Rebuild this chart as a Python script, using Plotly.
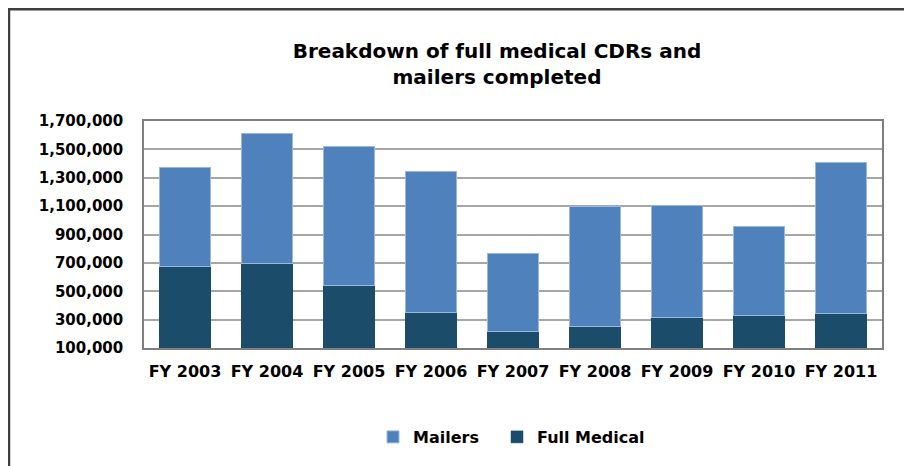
import plotly.graph_objects as go

categories = ["FY 2003", "FY 2004", "FY 2005", "FY 2006", "FY 2007", "FY 2008", "FY 2009", "FY 2010", "FY 2011"]
full_medical = [678000, 694000, 539000, 347000, 215000, 250000, 316000, 326000, 345000]
mailers = [692000, 916000, 980000, 996000, 552000, 846000, 785000, 629000, 1064000]
y_ticks = [100000, 300000, 500000, 700000, 900000, 1100000, 1300000, 1500000, 1700000]

FONT = "DejaVu Sans"
OFF = 8  # page body margin offset
W, H = 912 - OFF, 466 - OFF
L = 144 - OFF
T = 121 - OFF
R = W - (882 - OFF)
B = H - (348 - OFF)
PW, PH = W - L - R, H - T - B


def px_x(px):
    return (px - OFF - L) / PW


def px_y(py):
    return (H - B - (py - OFF)) / PH


fig = go.Figure()
fig.add_trace(go.Bar(x=categories, y=full_medical, name="Full Medical",
                     marker=dict(color="#1B4D6A", line=dict(color="#1B4D6A", width=0.5)),
                     legend="legend2", showlegend=True))
fig.add_trace(go.Bar(x=categories, y=mailers, name="Mailers",
                     marker=dict(color="#4F81BD", line=dict(color="#9BB8DC", width=1)),
                     legend="legend", showlegend=True))

legend_font = dict(family=FONT, size=16, color="black", weight="bold")

fig.update_layout(
    width=W, height=H,
    showlegend=True,
    margin=dict(l=L, r=R, t=T, b=B),
    barmode="stack", bargap=0.37,
    paper_bgcolor="white", plot_bgcolor="white",
    font=dict(family=FONT, color="black"),
    title=dict(text="<b>Breakdown of full medical CDRs and<br>mailers completed</b>",
               x=(497 - OFF) / W, xanchor="center", y=1 - (58 - OFF) / H, yanchor="middle",
               font=dict(family=FONT, size=20, color="black")),
    legend=dict(orientation="h", x=px_x(373), xanchor="left", y=px_y(437), yanchor="middle",
                font=legend_font, itemwidth=30, visible=True),
    legend2=dict(orientation="h", x=px_x(497), xanchor="left", y=px_y(437), yanchor="middle",
                 font=legend_font, itemwidth=30, visible=True),
    xaxis=dict(showline=True, linecolor="#7F7F7F", linewidth=1.5, mirror=True,
               tickfont=dict(family=FONT, size=16, color="black", weight="bold"),
               ticks="", ticklabelstandoff=8),
    yaxis=dict(range=[100000, 1700000], tickvals=y_ticks, tickformat=",",
               showline=True, linecolor="#7F7F7F", linewidth=1.5, mirror=True,
               showgrid=True, gridcolor="#A6A6A6", gridwidth=1.5,
               tickfont=dict(family=FONT, size=15, color="black", weight="bold"),
               ticks="", ticklabelstandoff=16),
    shapes=[dict(type="rect", xref="paper", yref="paper",
                 x0=(1 - L) / PW, x1=(W + 20 - L) / PW,
                 y0=(H - B - (H + 20)) / PH, y1=(H - B - 1.2) / PH,
                 line=dict(color="#3F3F3F", width=2.5), fillcolor="rgba(0,0,0,0)", layer="below")],
)

fig.write_html("out.html")
